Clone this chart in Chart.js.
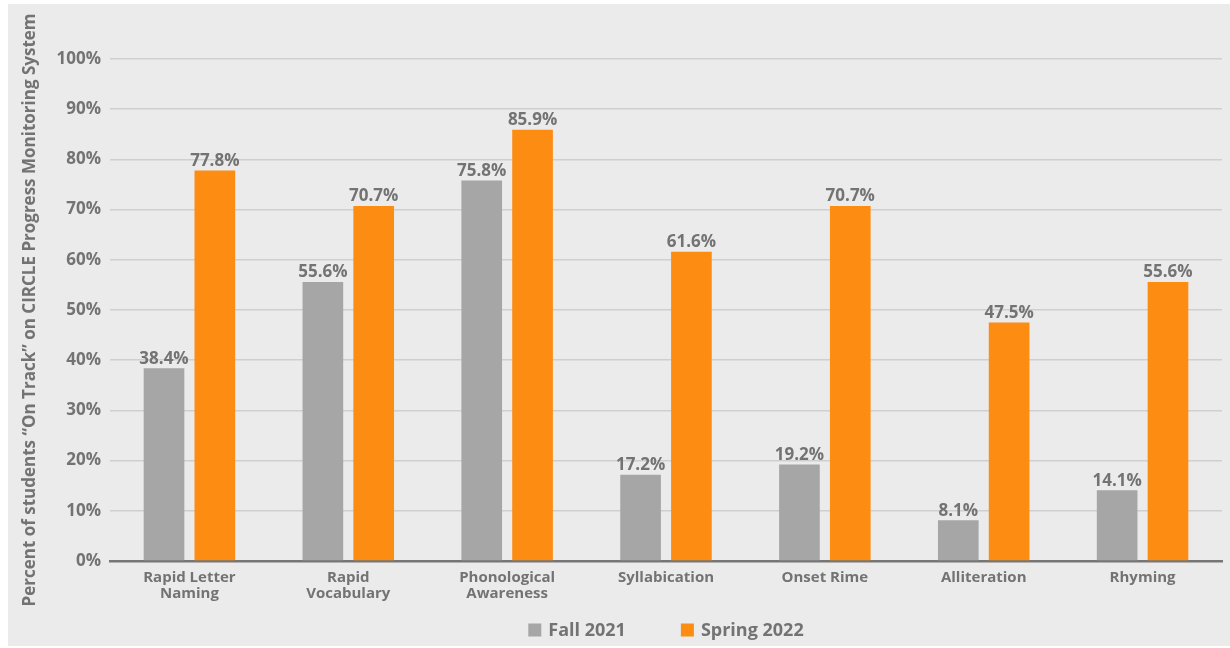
<!DOCTYPE html>
<html>
<head>
<meta charset="utf-8">
<script src="https://cdn.jsdelivr.net/npm/chart.js@4"></script>
<style>
  html, body { margin: 0; padding: 0; background: #ffffff; }
  #wrap { position: absolute; left: 0; top: 0; width: 1230px; height: 648px; }
</style>
</head>
<body>
<div id="wrap"><canvas id="chart" width="1230" height="648"></canvas></div>
<script>
// ==========================
// DATA
// ==========================
const categories = [['Rapid Letter', 'Naming'], ['Rapid', 'Vocabulary'], ['Phonological', 'Awareness'], 'Syllabication', 'Onset Rime', 'Alliteration', 'Rhyming'];
const fall2021 = [38.4, 55.6, 75.8, 17.2, 19.2, 8.1, 14.1];
const spring2022 = [77.8, 70.7, 85.9, 61.6, 70.7, 47.5, 55.6];
const seriesNames = ['Fall 2021', 'Spring 2022'];
const yTicks = [0, 10, 20, 30, 40, 50, 60, 70, 80, 90, 100];

const GRAY = '#a6a6a6';
const ORANGE = '#fd8c12';
const TEXT = '#737373';
const FONT = "'Open Sans', sans-serif";

// panel background (white border + light gray panel)
const panelBg = {
    id: 'panelBg',
    beforeDraw(chart) {
        const ctx = chart.ctx;
        ctx.save();
        ctx.fillStyle = '#ffffff';
        ctx.fillRect(0, 0, chart.width, chart.height);
        ctx.fillStyle = '#ebebeb';
        ctx.fillRect(8, 4, chart.width - 8, chart.height - 6);
        ctx.restore();
    }
};

// value labels above the bars
const valueLabels = {
    id: 'valueLabels',
    afterDatasetsDraw(chart) {
        const ctx = chart.ctx;
        ctx.save();
        ctx.font = `700 17px ${FONT}`;
        ctx.fillStyle = TEXT;
        ctx.textAlign = 'center';
        ctx.textBaseline = 'bottom';
        chart.data.datasets.forEach((ds, i) => {
            chart.getDatasetMeta(i).data.forEach((bar, j) => {
                ctx.fillText(ds.data[j].toFixed(1) + '%', bar.x, bar.y - 1);
            });
        });
        ctx.restore();
    }
};

// legend drawn under the axis, centred on the plot area
const bottomLegend = {
    id: 'bottomLegend',
    afterDraw(chart) {
        const ctx = chart.ctx;
        const area = chart.chartArea;
        const box = 13, gapText = 7, gapItem = 55, y = 630;
        ctx.save();
        ctx.font = `700 18px ${FONT}`;
        ctx.textBaseline = 'middle';
        ctx.textAlign = 'left';
        const items = chart.data.datasets.map(ds => ({ text: ds.label, color: ds.backgroundColor, w: ctx.measureText(ds.label).width }));
        const total = items.reduce((s, it) => s + box + gapText + it.w, 0) + gapItem * (items.length - 1);
        let x = (area.left + area.right) / 2 - total / 2;
        items.forEach(it => {
            ctx.fillStyle = it.color;
            ctx.fillRect(x, y - box / 2, box, box);
            x += box + gapText;
            ctx.fillStyle = TEXT;
            ctx.fillText(it.text, x, y + 1);
            x += it.w + gapItem;
        });
        ctx.restore();
    }
};

new Chart(document.getElementById('chart'), {
    type: 'bar',
    data: {
        labels: categories,
        datasets: [
            { label: seriesNames[0], data: fall2021, backgroundColor: GRAY, borderWidth: 0 },
            { label: seriesNames[1], data: spring2022, backgroundColor: ORANGE, borderWidth: 0 }
        ]
    },
    options: {
        responsive: false,
        animation: false,
        layout: { padding: { left: 8, right: 8, top: 59, bottom: 0 } },
        datasets: { bar: { categoryPercentage: 0.64, barPercentage: 0.8 } },
        plugins: {
            tooltip: { enabled: false },
            legend: { display: false }
        },
        scales: {
            x: {
                grid: { display: false, drawTicks: false },
                border: { color: '#767676', width: 2.5 },
                ticks: {
                    color: TEXT,
                    font: { family: FONT, size: 15, weight: '700', lineHeight: 1.05 },
                    padding: 9,
                    maxRotation: 0,
                    autoSkip: false
                },
                afterFit: s => { s.height = 87; }
            },
            y: {
                min: 0,
                max: 100,
                afterBuildTicks: s => { s.ticks = yTicks.map(v => ({ value: v })); },
                grid: { color: '#cfcfcf', lineWidth: 1.5, drawTicks: false },
                border: { display: false },
                ticks: {
                    color: TEXT,
                    font: { family: FONT, size: 17, weight: '700' },
                    padding: 9,
                    callback: v => v + '%'
                },
                title: {
                    display: true,
                    text: 'Percent of students \u201cOn Track\u201d on CIRCLE Progress Monitoring System',
                    color: TEXT,
                    font: { family: FONT, size: 17, weight: '700' },
                    padding: { top: 12, bottom: 0 }
                },
                afterFit: s => { s.width = 102; }
            }
        }
    },
    plugins: [panelBg, valueLabels, bottomLegend]
});
</script>
</body>
</html>
